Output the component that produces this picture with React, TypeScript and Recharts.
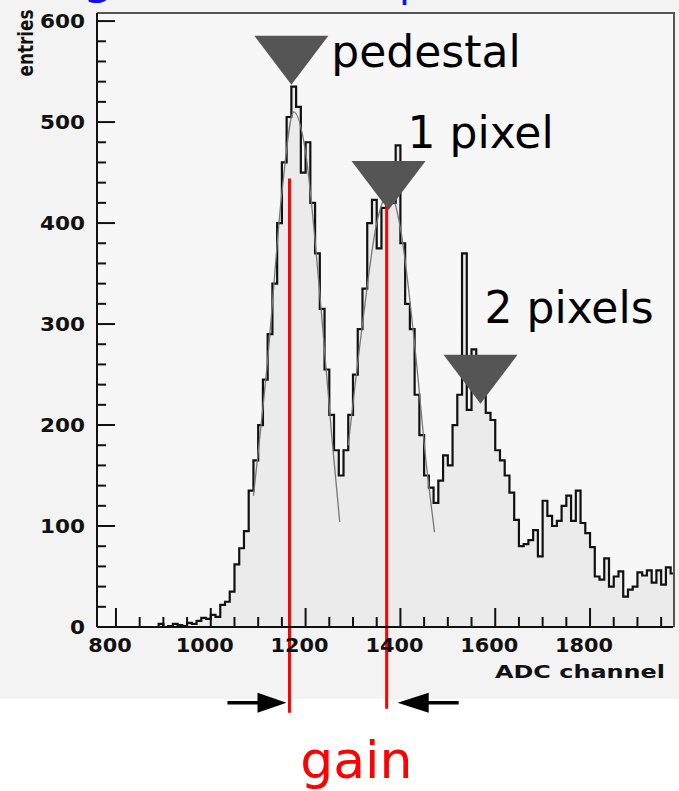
import React from 'react';
import { ComposedChart, Area, Line, XAxis, YAxis, ReferenceLine, ReferenceDot } from 'recharts';

// histogram bins (low edge, ADC channel) and counts
const adcBins = [
  760, 770, 780, 790, 800, 810, 820, 830, 840, 850,
  860, 870, 880, 890, 900, 910, 920, 930, 940, 950,
  960, 970, 980, 990, 1000, 1010, 1020, 1030, 1040, 1050,
  1060, 1070, 1080, 1090, 1100, 1110, 1120, 1130, 1140, 1150,
  1160, 1170, 1180, 1190, 1200, 1210, 1220, 1230, 1240, 1250,
  1260, 1270, 1280, 1290, 1300, 1310, 1320, 1330, 1340, 1350,
  1360, 1370, 1380, 1390, 1400, 1410, 1420, 1430, 1440, 1450,
  1460, 1470, 1480, 1490, 1500, 1510, 1520, 1530, 1540, 1550,
  1560, 1570, 1580, 1590, 1600, 1610, 1620, 1630, 1640, 1650,
  1660, 1670, 1680, 1690, 1700, 1710, 1720, 1730, 1740, 1750,
  1760, 1770, 1780, 1790, 1800, 1810, 1820, 1830, 1840, 1850,
  1860, 1870, 1880, 1890, 1900, 1910, 1920, 1930, 1940, 1950,
  1960, 1970, 1980,
];
const entries = [
  0, 0, 0, 0, 0, 0, 0, 0, 0, 0,
  0, 0, 0, 3, 0, 1, 3, 2, 1, 4,
  3, 6, 9, 8, 12, 10, 22, 25, 35, 62,
  78, 95, 135, 165, 200, 245, 290, 340, 400, 460,
  505, 535, 515, 450, 480, 420, 370, 315, 255, 210,
  175, 150, 175, 210, 250, 295, 335, 400, 423, 375,
  415, 428, 420, 477, 380, 320, 295, 230, 190, 150,
  138, 123, 145, 170, 160, 200, 230, 370, 215, 275,
  250, 235, 212, 205, 175, 165, 150, 133, 106, 80,
  82, 86, 96, 70, 125, 110, 100, 105, 120, 130,
  105, 135, 103, 93, 79, 50, 47, 68, 40, 50,
  55, 30, 37, 40, 54, 51, 56, 44, 56, 42,
  59, 53, 53,
];

// gaussian fits
const pedFitAdc = [1090, 1120, 1150, 1175, 1200, 1230, 1255, 1272];
const pedFitEntries = [130, 265, 430, 510, 470, 330, 190, 104];
const onePeFitAdc = [1290, 1320, 1350, 1378, 1400, 1430, 1455, 1472];
const onePeFitEntries = [180, 300, 400, 430, 395, 280, 160, 94];

// peak markers
const peakLabels = ['pedestal', '1 pixel', '2 pixels'];
const peakAdc = [1170, 1375, 1569];
const peakEntries = [537, 413, 221];
const gainAdc = [1166, 1371];

const xMajorTicks = [800, 1000, 1200, 1400, 1600, 1800];
const yMajorTicks = [0, 100, 200, 300, 400, 500, 600];

const xTicks: number[] = [];
for (let t = 800; t <= 1950; t += 50) xTicks.push(t);
const yTicks: number[] = [];
for (let t = 0; t <= 600; t += 20) yTicks.push(t);

const histData = adcBins.map((a, i) => ({ adc: a, entries: entries[i] }));
const pedFit = pedFitAdc.map((a, i) => ({ adc: a, entries: pedFitEntries[i] }));
const onePeFit = onePeFitAdc.map((a, i) => ({ adc: a, entries: onePeFitEntries[i] }));

const FONT = '"DejaVu Sans", sans-serif';
const labelOffsets = [
  [40, -18],
  [19, -62],
  [4, -81],
];

const XTick = (props: any) => {
  const { x, y, payload } = props;
  const v = payload.value;
  const major = xMajorTicks.includes(v);
  return (
    <g>
      <line x1={x} x2={x} y1={y} y2={y - (major ? 19 : 10)} stroke="#111" strokeWidth={2} />
      {major && (
        <text x={x - 6} y={y + 25} textAnchor="middle" fontFamily={FONT} fontWeight="bold" fontSize={20}
          fill="#111" textLength={String(v).length * 14.5} lengthAdjust="spacingAndGlyphs">{v}</text>
      )}
    </g>
  );
};

const YTick = (props: any) => {
  const { x, y, payload } = props;
  const v = payload.value;
  const major = yMajorTicks.includes(v);
  return (
    <g>
      <line x1={x} x2={x + (major ? 18 : 9)} y1={y} y2={y} stroke="#111" strokeWidth={2} />
      {major && (
        <text x={x - 12} y={y + 7} textAnchor="end" fontFamily={FONT} fontWeight="bold" fontSize={20}
          fill="#111" textLength={String(v).length * 15} lengthAdjust="spacingAndGlyphs">{v}</text>
      )}
    </g>
  );
};

export default function App() {
  return (
    <div style={{ position: 'absolute', left: 0, top: 0, width: 679, height: 791, background: '#fff', overflow: 'hidden' }}>
      <div style={{ position: 'absolute', left: 0, top: 0, width: 679, height: 699, background: '#f3f3f3' }} />
      <div style={{
        position: 'absolute', left: 97, top: 12, width: 578, height: 615, background: '#f7f7f7',
        borderTop: '2px solid #555', borderRight: '2px solid #555', boxSizing: 'border-box',
      }} />
      <div style={{ position: 'absolute', left: 0, top: 0 }}>
        <ComposedChart width={679} height={791} data={histData} margin={{ top: 13, right: 6, bottom: 104, left: 0 }}>
          <Area type="stepAfter" dataKey="entries" stroke="#111" strokeWidth={2.2} fill="#ebebeb" fillOpacity={1}
            baseValue={0} dot={false} activeDot={false} isAnimationActive={false} />
          <Line data={pedFit} dataKey="entries" type="monotone" stroke="#777" strokeWidth={1.3} dot={false}
            activeDot={false} isAnimationActive={false} />
          <Line data={onePeFit} dataKey="entries" type="monotone" stroke="#777" strokeWidth={1.3} dot={false}
            activeDot={false} isAnimationActive={false} />
          <XAxis dataKey="adc" type="number" domain={[760, 1975]} allowDataOverflow ticks={xTicks} interval={0}
            tickSize={0} tickMargin={0} tickLine={false} tick={<XTick />} height={60}
            axisLine={{ stroke: '#111', strokeWidth: 2 }} />
          <YAxis type="number" domain={[0, 608]} allowDataOverflow ticks={yTicks} interval={0} tickSize={0}
            tickMargin={0} tickLine={false} tick={<YTick />} width={97} axisLine={{ stroke: '#111', strokeWidth: 2 }} />
          {peakAdc.map((a, i) => (
            <ReferenceDot key={'p' + i} x={a} y={peakEntries[i]} r={0} ifOverflow="visible"
              shape={(p: any) => (
                <g>
                  <polygon points={`${p.cx},${p.cy} ${p.cx - 37},${p.cy - 49} ${p.cx + 37},${p.cy - 49}`} fill="#555" />
                  <text x={p.cx + labelOffsets[i][0]} y={p.cy + labelOffsets[i][1]} fontFamily={FONT} fontSize={44}
                    fill="#000">{peakLabels[i]}</text>
                </g>
              )} />
          ))}
          <ReferenceLine segment={[{ x: gainAdc[0], y: 444 }, { x: gainAdc[0], y: -85 }]} stroke="#ff0000"
            strokeWidth={3} ifOverflow="visible" />
          <ReferenceLine segment={[{ x: gainAdc[1], y: 444 }, { x: gainAdc[1], y: -81 }]} stroke="#ff0000"
            strokeWidth={3} ifOverflow="visible" />
          <ReferenceDot x={gainAdc[0]} y={-75} r={0} ifOverflow="visible"
            shape={(p: any) => (
              <g>
                <line x1={p.cx - 62} x2={p.cx - 30} y1={p.cy} y2={p.cy} stroke="#000" strokeWidth={3.5} />
                <polygon points={`${p.cx - 3},${p.cy} ${p.cx - 32},${p.cy - 10} ${p.cx - 32},${p.cy + 10}`} fill="#000" />
              </g>
            )} />
          <ReferenceDot x={gainAdc[1]} y={-75} r={0} ifOverflow="visible"
            shape={(p: any) => (
              <g>
                <line x1={p.cx + 40} x2={p.cx + 72} y1={p.cy} y2={p.cy} stroke="#000" strokeWidth={3.5} />
                <polygon points={`${p.cx + 11},${p.cy} ${p.cx + 42},${p.cy - 10} ${p.cx + 42},${p.cy + 10}`} fill="#000" />
              </g>
            )} />
          <ReferenceDot x={1307} y={-150} r={0} ifOverflow="visible"
            shape={(p: any) => (
              <text x={p.cx} y={p.cy} textAnchor="middle" fontFamily={FONT} fontSize={52} fill="#ff0000">gain</text>
            )} />
        </ComposedChart>
      </div>
      <svg width={679} height={791} style={{ position: 'absolute', left: 0, top: 0, pointerEvents: 'none' }}>
        <text x={84} y={-6} fontFamily={FONT} fontWeight="bold" fontSize={40} fill="#1010ee">g</text>
        <text x={399} y={-4} fontFamily={FONT} fontSize={40} fill="#1010ee">p</text>
        <text x={33} y={43} transform="rotate(-90 33 43)" textAnchor="middle" fontFamily={FONT} fontWeight="bold"
          fontSize={21} fill="#111" textLength={67} lengthAdjust="spacingAndGlyphs">entries</text>
        <text x={495} y={678} fontFamily={FONT} fontWeight="bold" fontSize={17} fill="#111" textLength={170}
          lengthAdjust="spacingAndGlyphs">ADC channel</text>
      </svg>
    </div>
  );
}
